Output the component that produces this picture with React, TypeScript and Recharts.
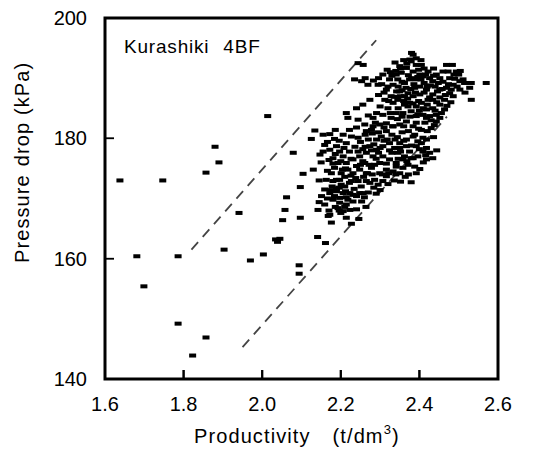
import React from "react";
import {
  ScatterChart,
  Scatter,
  XAxis,
  YAxis,
  ReferenceLine,
} from "recharts";

// Productivity (t/dm3), Pressure drop (kPa)
const outlierPoints: [number, number][] = [
  [1.638, 173.0], [1.747, 173.0], [1.681, 160.4], [1.699, 155.4], [1.786, 160.4],
  [1.786, 149.2], [1.857, 146.9], [1.823, 143.9], [1.857, 174.3], [1.880, 178.6],
  [1.890, 176.0], [1.903, 161.5], [1.941, 167.6], [1.970, 159.7], [2.003, 160.7],
  [2.014, 183.7], [2.034, 163.2], [2.039, 162.8], [2.045, 163.3], [2.052, 166.4],
  [2.058, 168.1], [2.062, 170.2], [2.079, 177.6], [2.094, 158.9], [2.094, 157.5],
  [2.097, 166.8], [2.097, 171.9], [2.104, 174.1], [2.125, 179.9], [2.134, 181.3],
  [2.130, 174.8], [2.141, 163.6], [2.145, 169.4], [2.142, 168.1], [2.147, 177.3],
  [2.151, 170.4], [2.161, 162.6], [2.168, 167.1], [2.170, 168.0],
];

const lowerClusterPoints: [number, number][] = [
  [2.155, 180.6], [2.172, 180.7], [2.184, 179.9], [2.159, 178.9], [2.189, 178.7],
  [2.197, 177.8], [2.172, 178.1], [2.155, 177.8], [2.214, 179.2], [2.227, 180.3],
  [2.244, 180.1], [2.206, 177.0], [2.180, 176.7], [2.193, 175.9], [2.214, 175.9],
  [2.231, 176.5], [2.248, 177.0], [2.265, 177.6], [2.261, 175.9], [2.282, 177.0],
  [2.274, 178.7], [2.291, 179.8], [2.303, 180.3], [2.316, 181.2], [2.291, 178.1],
  [2.307, 178.7], [2.324, 179.2], [2.337, 178.4], [2.350, 179.2], [2.367, 179.8],
  [2.384, 180.3], [2.345, 177.6], [2.362, 177.0], [2.375, 177.8], [2.392, 178.7],
  [2.405, 179.2], [2.418, 178.4], [2.384, 176.7], [2.371, 175.6], [2.358, 175.1],
  [2.341, 175.9], [2.324, 176.5], [2.307, 177.0], [2.299, 175.9], [2.278, 175.1],
  [2.265, 174.2], [2.248, 174.8], [2.231, 174.2], [2.218, 174.8], [2.201, 174.2],
  [2.184, 175.1], [2.176, 174.2], [2.163, 173.1], [2.180, 172.9], [2.197, 173.1],
  [2.210, 172.0], [2.227, 172.9], [2.244, 172.9], [2.265, 172.9], [2.286, 173.1],
  [2.299, 174.2], [2.316, 174.8], [2.333, 174.5], [2.350, 174.2], [2.316, 173.7],
  [2.295, 172.3], [2.307, 172.9], [2.248, 170.9], [2.223, 170.9], [2.206, 170.9],
  [2.189, 171.2], [2.172, 170.9], [2.159, 171.5], [2.180, 169.8], [2.197, 169.3],
  [2.214, 169.0], [2.231, 169.5], [2.253, 169.5], [2.193, 168.4], [2.206, 167.9],
  [2.214, 166.8], [2.227, 165.8], [2.172, 167.3], [2.159, 169.0], [2.184, 170.4],
  [2.379, 172.7], [2.401, 174.9], [2.434, 176.7], [2.418, 176.5], [2.341, 175.3],
  [2.409, 177.8], [2.396, 177.0], [2.388, 180.6], [2.409, 180.1], [2.396, 179.5],
  [2.418, 179.8], [2.367, 178.7], [2.350, 178.4], [2.426, 177.6], [2.358, 176.5],
  [2.388, 175.3], [2.379, 176.7], [2.189, 173.1], [2.201, 172.3], [2.189, 171.7],
  [2.197, 170.1], [2.223, 168.1], [2.218, 169.8], [2.231, 170.6], [2.257, 170.9],
  [2.240, 170.4],
  [2.170, 176.4], [2.186, 177.4], [2.200, 176.2], [2.222, 177.8], [2.236, 178.6],
  [2.250, 179.4], [2.262, 180.6], [2.280, 180.8], [2.296, 181.0], [2.310, 181.8],
  [2.330, 180.6], [2.344, 180.2], [2.356, 181.0], [2.372, 181.2], [2.256, 178.2],
  [2.240, 175.4], [2.226, 173.8], [2.210, 173.6], [2.196, 171.8], [2.178, 172.0],
  [2.166, 174.6], [2.150, 176.0], [2.145, 173.0], [2.212, 171.2], [2.234, 171.6],
  [2.252, 172.0], [2.270, 171.0], [2.284, 171.8], [2.300, 171.4], [2.320, 172.4],
  [2.336, 173.0], [2.352, 172.8], [2.364, 173.6], [2.290, 176.6], [2.272, 175.6],
  [2.256, 176.2], [2.330, 177.6], [2.346, 176.6], [2.316, 175.8], [2.300, 178.4],
  [2.284, 179.0], [2.270, 179.8], [2.332, 182.0], [2.318, 179.8], [2.360, 179.6],
  [2.380, 178.8], [2.398, 181.6], [2.420, 181.2], [2.436, 180.2], [2.444, 178.0],
  [2.410, 176.0], [2.392, 174.2], [2.372, 174.0], [2.186, 168.6], [2.200, 167.6],
  [2.176, 166.0], [2.240, 168.2], [2.246, 166.6], [2.264, 168.6], [2.166, 170.0],
  [2.238, 173.4], [2.280, 174.0], [2.166, 179.4], [2.186, 181.4], [2.206, 180.6],
  [2.222, 181.4], [2.240, 181.8],
  [2.226, 176.6], [2.244, 177.8], [2.262, 178.6], [2.278, 178.0], [2.296, 177.6],
  [2.310, 179.6], [2.324, 178.0], [2.338, 179.8], [2.208, 178.4], [2.196, 179.6],
  [2.212, 175.0], [2.250, 175.6], [2.268, 174.2], [2.286, 175.6], [2.306, 174.0],
  [2.322, 174.2], [2.340, 174.0], [2.180, 175.8], [2.204, 174.8], [2.222, 172.6],
  [2.258, 173.6], [2.176, 171.4], [2.214, 170.2], [2.196, 168.0], [2.210, 168.6],
  [2.260, 170.2], [2.290, 170.8], [2.274, 172.6], [2.352, 177.8], [2.368, 176.2],
  [2.400, 178.2], [2.416, 177.2],
];

const upperClusterPoints: [number, number][] = [
  [2.244, 192.5], [2.257, 192.2], [2.235, 189.8], [2.253, 189.5], [2.269, 188.9],
  [2.295, 188.9], [2.307, 190.6], [2.274, 186.4], [2.240, 185.0], [2.214, 184.2],
  [2.218, 183.4], [2.244, 183.1], [2.261, 182.3], [2.265, 181.2], [2.282, 182.0],
  [2.299, 182.3], [2.316, 182.5], [2.307, 183.9], [2.320, 185.0], [2.333, 185.9],
  [2.345, 186.4], [2.328, 187.0], [2.316, 188.1], [2.333, 188.9], [2.345, 189.8],
  [2.354, 190.9], [2.367, 191.7], [2.350, 192.0], [2.384, 193.9], [2.379, 192.8],
  [2.392, 192.2], [2.405, 192.2], [2.422, 191.1], [2.409, 190.3], [2.392, 189.8],
  [2.375, 189.8], [2.362, 189.2], [2.388, 188.4], [2.401, 188.6], [2.418, 188.1],
  [2.434, 189.5], [2.452, 190.0], [2.473, 191.1], [2.477, 190.0], [2.494, 191.1],
  [2.503, 189.5], [2.511, 189.8], [2.486, 188.9], [2.469, 188.4], [2.452, 188.1],
  [2.434, 187.3], [2.422, 186.4], [2.405, 185.9], [2.392, 185.3], [2.375, 185.9],
  [2.362, 187.0], [2.350, 187.8], [2.371, 187.5], [2.401, 187.3], [2.418, 184.8],
  [2.434, 185.0], [2.443, 183.9], [2.452, 183.4], [2.426, 183.7], [2.409, 183.9],
  [2.392, 183.7], [2.379, 184.5], [2.367, 182.8], [2.350, 182.3], [2.333, 182.0],
  [2.384, 182.0], [2.405, 181.4], [2.430, 181.7], [2.443, 182.8], [2.477, 187.5],
  [2.486, 187.0], [2.503, 188.1], [2.528, 188.4], [2.532, 186.4], [2.570, 189.2],
  [2.532, 189.2], [2.515, 189.2], [2.469, 192.2], [2.460, 191.1], [2.443, 190.6],
  [2.434, 186.4], [2.452, 185.6], [2.464, 186.4], [2.481, 188.1], [2.371, 185.3],
  [2.358, 184.2], [2.341, 184.2], [2.328, 183.4], [2.291, 184.2], [2.282, 183.4],
  [2.278, 181.4], [2.384, 191.1], [2.401, 190.6], [2.341, 190.6], [2.324, 189.8],
  [2.320, 188.6],
  [2.340, 191.2], [2.356, 189.4], [2.372, 190.5], [2.386, 189.0], [2.398, 191.4],
  [2.412, 189.2], [2.426, 190.0], [2.440, 188.6], [2.356, 188.0], [2.370, 186.6],
  [2.384, 187.0], [2.398, 186.2], [2.412, 187.6], [2.428, 188.8], [2.446, 187.8],
  [2.460, 189.4], [2.466, 187.2], [2.490, 189.9], [2.500, 190.6], [2.346, 185.0],
  [2.362, 185.6], [2.376, 183.6], [2.392, 182.6], [2.414, 182.6], [2.420, 185.6],
  [2.440, 184.6], [2.456, 184.2], [2.470, 185.4], [2.336, 186.9], [2.322, 186.2],
  [2.300, 185.3], [2.310, 187.6], [2.296, 190.0], [2.318, 191.4], [2.338, 192.6],
  [2.360, 193.0], [2.376, 193.1], [2.392, 193.3], [2.412, 191.6], [2.436, 191.6],
  [2.484, 192.2], [2.496, 188.6], [2.516, 187.6], [2.452, 186.8], [2.430, 183.0],
  [2.400, 184.6], [2.360, 182.0], [2.344, 183.2], [2.296, 187.2], [2.283, 189.6],
  [2.262, 190.0], [2.288, 182.6], [2.270, 183.8], [2.256, 185.6],
  [2.330, 190.4], [2.346, 188.6], [2.352, 187.0], [2.366, 188.4], [2.378, 188.2],
  [2.390, 187.6], [2.404, 189.8], [2.416, 190.6], [2.380, 190.0], [2.368, 192.4],
  [2.396, 190.2], [2.420, 188.6], [2.436, 190.4], [2.448, 189.2], [2.458, 188.2],
  [2.474, 189.0], [2.488, 190.6], [2.504, 191.2], [2.360, 186.2], [2.384, 185.8],
  [2.410, 185.0], [2.426, 186.8], [2.444, 186.0], [2.342, 187.8], [2.326, 184.2],
  [2.356, 183.6], [2.396, 184.0], [2.418, 183.4], [2.438, 182.2], [2.464, 184.8],
  [2.480, 186.0], [2.312, 186.4], [2.304, 189.0], [2.326, 191.0], [2.352, 191.6],
  [2.404, 193.0], [2.380, 194.2],
];

const upperBoundary: [number, number][] = [[1.82, 161.5], [2.29, 196.3]];
const lowerBoundary: [number, number][] = [[1.95, 145.3], [2.47, 183.6]];

const xDomain: [number, number] = [1.6, 2.6];
const yDomain: [number, number] = [140, 200];
const xTicks = [1.6, 1.8, 2.0, 2.2, 2.4, 2.6];
const yTicks = [140, 160, 180, 200];

const toRows = (pts: [number, number][]) =>
  pts.map(([productivity, pressure]) => ({ productivity, pressure }));
const toSegment = (pts: [number, number][]) => pts.map(([x, y]) => ({ x, y }));

const allPoints = toRows([...outlierPoints, ...lowerClusterPoints, ...upperClusterPoints]);
const upperSegment = toSegment(upperBoundary);
const lowerSegment = toSegment(lowerBoundary);

const FONT = "'Liberation Sans', Arial, Helvetica, sans-serif";
const tickStyle = { fontFamily: FONT, fontSize: 20, fill: "#000" };
const formatX = (v: number) => v.toFixed(1);

const W = 530;
const H = 440;
const MARGIN = { top: 10, right: 40, bottom: 5, left: 0 };
const X_AXIS_H = 64;
const Y_AXIS_W = 97;
// plot box geometry (follows from the margins and axis sizes above)
const PLOT_L = MARGIN.left + Y_AXIS_W;
const PLOT_T = MARGIN.top;
const PLOT_W = W - MARGIN.left - MARGIN.right - Y_AXIS_W;
const PLOT_H = H - MARGIN.top - MARGIN.bottom - X_AXIS_H;
const TICK_LEN = 9;
const xPos = (v: number) => PLOT_L + ((v - xDomain[0]) / (xDomain[1] - xDomain[0])) * PLOT_W;
const yPos = (v: number) => PLOT_T + ((yDomain[1] - v) / (yDomain[1] - yDomain[0])) * PLOT_H;

const DashMarker = (props: any) => {
  const { cx, cy } = props;
  if (cx == null || cy == null) return null;
  return <rect x={cx - 3.5} y={cy - 2} width={7} height={4} fill="#000" />;
};

function FrameOverlay() {
  return (
    <svg
      width={W}
      height={H}
      style={{ position: "absolute", left: 0, top: 0, pointerEvents: "none" }}
    >
      <rect
        x={PLOT_L}
        y={PLOT_T}
        width={PLOT_W}
        height={PLOT_H}
        fill="none"
        stroke="#000"
        strokeWidth={3}
      />
      {xTicks.map((v) => (
        <line
          key={`xt${v}`}
          x1={xPos(v)}
          x2={xPos(v)}
          y1={PLOT_T + PLOT_H}
          y2={PLOT_T + PLOT_H - TICK_LEN}
          stroke="#000"
          strokeWidth={2}
        />
      ))}
      {yTicks.map((v) => (
        <line
          key={`yt${v}`}
          x1={PLOT_L}
          x2={PLOT_L + TICK_LEN}
          y1={yPos(v)}
          y2={yPos(v)}
          stroke="#000"
          strokeWidth={1.5}
        />
      ))}
    </svg>
  );
}

export default function App() {
  return (
    <div style={{ position: "relative", width: W, height: H }}>
      <ScatterChart width={W} height={H} margin={MARGIN}>
        <XAxis
          type="number"
          dataKey="productivity"
          domain={xDomain}
          ticks={xTicks}
          tickFormatter={formatX}
          interval={0}
          height={X_AXIS_H}
          tickSize={-TICK_LEN}
          tickMargin={27}
          tick={tickStyle}
          stroke="#000"
          strokeWidth={2}
        />
        <YAxis
          type="number"
          dataKey="pressure"
          domain={yDomain}
          ticks={yTicks}
          interval={0}
          width={Y_AXIS_W}
          tickSize={-TICK_LEN}
          tickMargin={27}
          tick={tickStyle}
          stroke="#000"
          strokeWidth={1.5}
        />
        <ReferenceLine segment={upperSegment} stroke="#444" strokeWidth={1.8} strokeDasharray="10 7" />
        <ReferenceLine segment={lowerSegment} stroke="#444" strokeWidth={1.8} strokeDasharray="10 7" />
        <Scatter data={allPoints} shape={DashMarker} isAnimationActive={false} />
        <text x={116} y={45} fontFamily={FONT} fontSize={19} letterSpacing={0.8} fill="#000">
          Kurashiki<tspan dx={14}>4BF</tspan>
        </text>
        <text x={186} y={435} fontFamily={FONT} fontSize={20} letterSpacing={1.1} fill="#000">
          Productivity
          <tspan dx={22}>(t/dm</tspan>
          <tspan fontSize={13} dy={-9}>3</tspan>
          <tspan dy={9}>)</tspan>
        </text>
        <text
          x={21}
          y={255}
          transform="rotate(-90, 21, 255)"
          fontFamily={FONT}
          fontSize={20}
          letterSpacing={1.1}
          fill="#000"
        >
          Pressure<tspan dx={8}>drop (kPa)</tspan>
        </text>
      </ScatterChart>
      <FrameOverlay />
    </div>
  );
}
